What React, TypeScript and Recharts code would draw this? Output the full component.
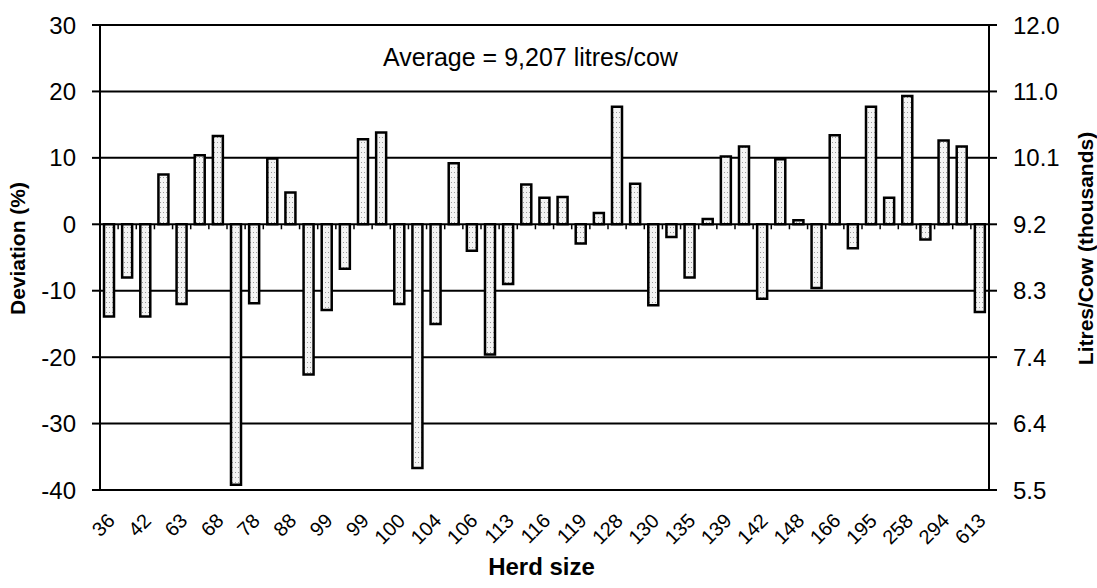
import React from 'react';
import { ComposedChart, Bar, Line, XAxis, YAxis, CartesianGrid, Label } from 'recharts';

// herd sizes along the x axis (only every other one is labelled in the chart)
const herdSizes = [
  36, 40, 42, 55, 63, 65, 68, 72, 78, 84, 88, 95, 99, 99, 99, 100, 100, 102, 104, 105,
  106, 110, 113, 115, 116, 118, 119, 125, 128, 129, 130, 132, 135, 137, 139, 140, 142, 145, 148, 160,
  166, 180, 195, 220, 258, 270, 294, 350, 613
];

// deviation from the average yield, %
const deviations = [
  -13.9, -8.0, -13.9, 7.5, -12.0, 10.4, 13.3, -39.2, -11.9, 9.9,
  4.8, -22.6, -12.9, -6.7, 12.8, 13.8, -12.0, -36.7, -15.0, 9.2,
  -4.0, -19.6, -9.0, 6.0, 4.0, 4.1, -2.9, 1.7, 17.7, 6.1,
  -12.2, -1.9, -8.0, 0.8, 10.2, 11.7, -11.2, 9.8, 0.6, -9.6,
  13.4, -3.6, 17.7, 4.0, 19.3, -2.3, 12.6, 11.7, -13.2
];

const deviationTicks = [-40, -30, -20, -10, 0, 10, 20, 30];
const averageLitres = 9207;

const W = 1097;
const H = 588;
const PLOT_LEFT = 100;
const PLOT_RIGHT = 989;
const PLOT_TOP = 25;
const PLOT_BOTTOM = 490;
const FONT = '"Liberation Sans", Arial, sans-serif';

const data = herdSizes.map((herd, i) => ({ herd, deviation: deviations[i] }));

const step = (PLOT_RIGHT - PLOT_LEFT) / herdSizes.length;
const zeroY = PLOT_TOP + ((PLOT_BOTTOM - PLOT_TOP) * 30) / 70;

// litres/cow (thousands) for a given deviation
const toLitres = (v: number) => ((averageLitres * (1 + v / 100)) / 1000).toFixed(1);

const HerdTick = (props: any) => {
  const { x, y, payload, index } = props;
  const left = x - step / 2;
  const tx = x + 7;
  const ty = y + 32;
  return (
    <g>
      {index > 0 && (
        <line x1={left} x2={left} y1={zeroY} y2={zeroY + 5} stroke="#000" strokeWidth={1.5} />
      )}
      {index % 2 === 0 && (
        <text
          x={tx}
          y={ty}
          transform={`rotate(-45 ${tx} ${ty})`}
          textAnchor="end"
          fontSize={20}
          fill="#000"
        >
          {payload.value}
        </text>
      )}
    </g>
  );
};

const sideTitle = (text: string, offsetX: number) => (props: any) => {
  const { viewBox } = props;
  const cx = viewBox.x + offsetX;
  const cy = viewBox.y + viewBox.height / 2 - 9;
  return (
    <text
      x={cx}
      y={cy}
      transform={`rotate(-90 ${cx} ${cy})`}
      textAnchor="middle"
      dominantBaseline="central"
      fontSize={21}
      fontWeight="bold"
      fill="#000"
    >
      {text}
    </text>
  );
};

const bottomTitle = (props: any) => {
  const { viewBox } = props;
  return (
    <text
      x={viewBox.x + viewBox.width / 2 - 3}
      y={viewBox.y + 85}
      textAnchor="middle"
      fontSize={24}
      fontWeight="bold"
      fill="#000"
    >
      Herd size
    </text>
  );
};

export default function App() {
  const tickStyle = { fontSize: 24, fill: '#000' };
  return (
    <div style={{ position: 'absolute', left: 0, top: 0, width: W, height: H, background: '#fff', fontFamily: FONT }}>
      <ComposedChart
        width={W}
        height={H}
        data={data}
        margin={{ top: PLOT_TOP, right: 0, bottom: 0, left: 0 }}
      >
        <defs>
          <pattern id="stipple" width="3" height="5" patternUnits="userSpaceOnUse">
            <rect width="3" height="5" fill="#f4f4f4" />
            <rect x="1" y="2" width="1" height="1" fill="#9c9c9c" />
          </pattern>
        </defs>
        <CartesianGrid vertical={false} stroke="#000" strokeWidth={2} />
        <XAxis
          dataKey="herd"
          interval={0}
          height={H - PLOT_BOTTOM}
          tickSize={0}
          tickMargin={0}
          axisLine={false}
          tickLine={false}
          tick={<HerdTick />}
        >
          <Label content={bottomTitle} />
        </XAxis>
        <YAxis
          width={PLOT_LEFT}
          domain={[-40, 30]}
          ticks={deviationTicks}
          interval={0}
          tick={tickStyle}
          tickSize={8}
          tickMargin={16}
          axisLine={{ stroke: '#000', strokeWidth: 2 }}
          tickLine={{ stroke: '#000', strokeWidth: 2 }}
        >
          <Label content={sideTitle('Deviation (%)', 17)} />
        </YAxis>
        <YAxis
          yAxisId="right"
          orientation="right"
          width={W - PLOT_RIGHT}
          domain={[-40, 30]}
          ticks={deviationTicks}
          interval={0}
          tickFormatter={toLitres}
          tick={tickStyle}
          tickSize={8}
          tickMargin={16}
          axisLine={{ stroke: '#000', strokeWidth: 2 }}
          tickLine={{ stroke: '#000', strokeWidth: 2 }}
        >
          <Label content={sideTitle('Litres/Cow (thousands)', 96)} />
        </YAxis>
        <Bar
          dataKey="deviation"
          fill="url(#stipple)"
          stroke="#000"
          strokeWidth={2.5}
          barSize={10}
          isAnimationActive={false}
        />
        {/* invisible series so the litres axis on the right is drawn */}
        <Line
          yAxisId="right"
          dataKey="deviation"
          stroke="none"
          dot={false}
          activeDot={false}
          legendType="none"
          isAnimationActive={false}
        />
      </ComposedChart>
      <div
        style={{
          position: 'absolute',
          left: 383,
          top: 45,
          fontSize: 25,
          lineHeight: '25px',
          whiteSpace: 'nowrap',
          color: '#000'
        }}
      >
        {`Average = ${averageLitres.toLocaleString('en-US')} litres/cow`}
      </div>
    </div>
  );
}
